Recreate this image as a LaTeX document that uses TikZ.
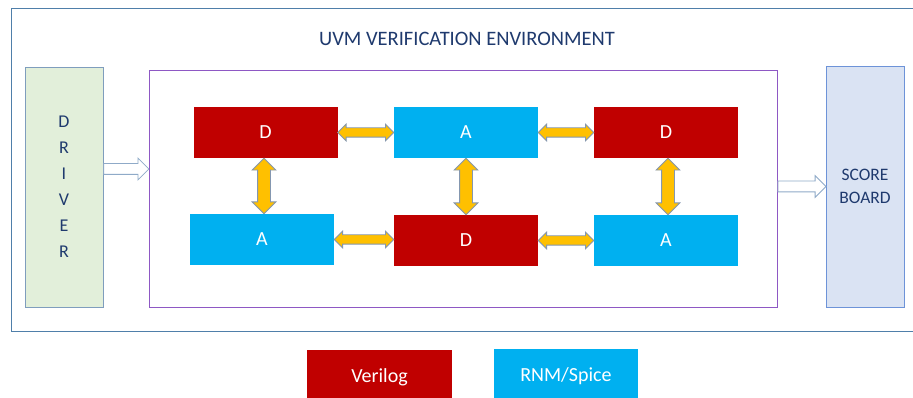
\documentclass[tikz,border=0pt]{standalone}
\usepackage{fontspec}
\setmainfont{Carlito}
\usetikzlibrary{shapes.arrows,calc}
\definecolor{vred}{HTML}{C00000}
\definecolor{vblue}{HTML}{00B0F0}
\definecolor{vyel}{HTML}{FFC000}
\definecolor{arrline}{HTML}{8497B0}
\definecolor{frameblue}{HTML}{4F7FAA}
\definecolor{navy}{HTML}{1F3A6E}
\definecolor{drvfill}{HTML}{E2EFDA}
\definecolor{drvline}{HTML}{7F9DBD}
\definecolor{scfill}{HTML}{DAE3F3}
\definecolor{scline}{HTML}{6D93D8}
\definecolor{envline}{HTML}{8E58C4}
\definecolor{openarr}{HTML}{8FAAC8}
\tikzset{
  blk/.style={inner sep=0pt, minimum width=144pt, minimum height=51pt, text=white, font=\fontsize{20}{22}\selectfont},
  dblk/.style={blk, fill=vred},
  ablk/.style={blk, fill=vblue},
  harr/.style={double arrow, fill=vyel, draw=arrline, line width=0.8pt, inner xsep=0pt, inner ysep=4.25pt,
    minimum width=0pt, double arrow head extend=3.75pt},
  varr/.style={double arrow, fill=vyel, draw=arrline, line width=0.8pt, inner xsep=0pt, inner ysep=6pt,
    minimum width=0pt, double arrow head extend=5.5pt},
  openarrow/.style={single arrow, fill=white, draw=openarr, line width=0.8pt, inner xsep=0pt, inner ysep=5pt,
    minimum width=0pt, single arrow head extend=5.5pt},
}
\newcommand\yarr[3][harr]{%
  \path let \p1=(#2), \p2=(#3), \n1={veclen(\x2-\x1,\y2-\y1)}, \n2={atan2(\y2-\y1,\x2-\x1)} in
    node[#1, minimum height=\n1, rotate=\n2] at ($(\p1)!0.5!(\p2)$) {};}
\begin{document}
\begin{tikzpicture}[x=1pt,y=-1pt]
\useasboundingbox (0,0) rectangle (913,398);
\fill[white] (0,0) rectangle (913,398);
% outer frame
\draw[frameblue, line width=0.9pt] (11.5,8) rectangle (930,331.5);
\node[text=navy, font=\fontsize{20.5}{22}\selectfont] (title) at (467,39) {UVM VERIFICATION ENVIRONMENT};
% driver
\node[draw=drvline, fill=drvfill, line width=0.8pt, minimum width=78pt, minimum height=240pt, inner sep=0pt,
  text=navy, font=\fontsize{18}{26}\selectfont, align=center] (driver) at (64,187)
  {D\\R\\I\\V\\E\\R};
% environment
\node[draw=envline, line width=1pt, minimum width=628pt, minimum height=236pt, inner sep=0pt] (env) at (463,189) {};
% scoreboard
\node[draw=scline, fill=scfill, line width=0.8pt, minimum width=78pt, minimum height=241pt, inner sep=0pt,
  text=navy, font=\fontsize{17.5}{23}\selectfont, align=center] (score) at (865,186.5)
  {SCORE\\BOARD};
% blocks
\node[dblk] (d1) at (265.5,132.5) {D};
\node[ablk] (a2) at (466,132.5) {A};
\node[dblk] (d3) at (666,132.5) {D};
\node[ablk] (a1) at (262,239.5) {A};
\node[dblk] (d2) at (466,240.5) {D};
\node[ablk] (a3) at (666,240.5) {A};
% yellow arrows
\yarr{d1.east}{d1.east -| a2.west}
\yarr{a2.east}{a2.east -| d3.west}
\yarr{a1.east}{a1.east -| d2.west}
\yarr{d2.east}{d2.east -| a3.west}
\coordinate (v1) at ($(d1.south)+(-1.5,0)$);
\yarr[varr]{v1}{v1 |- a1.north}
\yarr[varr]{a2.south}{a2.south |- d2.north}
\coordinate (v3) at ($(d3.south)+(2,0)$);
\yarr[varr]{v3}{v3 |- a3.north}
% open arrows
\coordinate (drvout) at ($(driver.east)+(0,-18)$);
\path let \p1=(drvout), \p2=(drvout -| env.west) in
  node[openarrow, minimum height={\x2-\x1}, anchor=west] (inarrow) at (\p1) {};
\path let \p1=(score.west -| env.east), \p2=(score.west) in
  node[openarrow, minimum height={\x2-\x1}, anchor=west] (outarrow) at (\p1) {};
% legend
\node[fill=vred, minimum width=145pt, minimum height=54pt, inner sep=0pt, text=white,
  font=\fontsize{20}{22}\selectfont] (verilog) at (379.5,377) {Verilog};
\node[fill=vblue, minimum width=144pt, minimum height=54pt, inner sep=0pt, text=white,
  font=\fontsize{20}{22}\selectfont] (rnm) at (566,376) {RNM/Spice};
\end{tikzpicture}
\end{document}
